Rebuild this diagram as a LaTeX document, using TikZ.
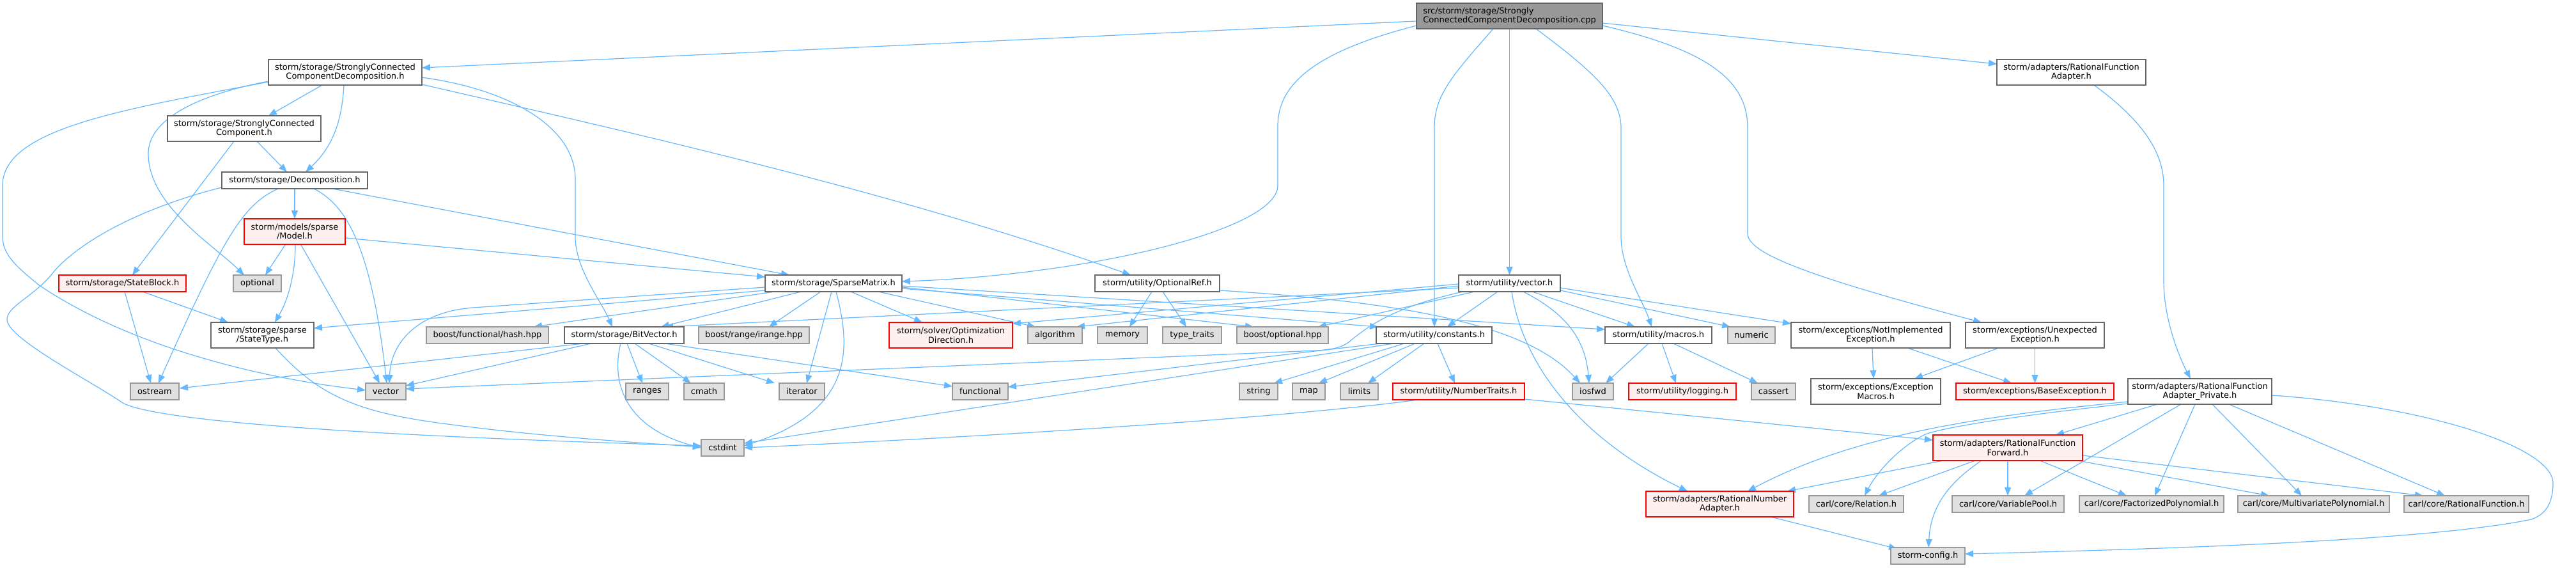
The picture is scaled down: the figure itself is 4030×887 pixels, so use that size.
\documentclass[tikz,border=0pt]{standalone}
\usepackage{fontspec}
\setmainfont{DejaVu Sans}
\usetikzlibrary{arrows.meta}
\definecolor{edgec}{HTML}{63B8FF}
\definecolor{cdark}{HTML}{666666}
\definecolor{cmid}{HTML}{999999}
\definecolor{clight}{HTML}{E0E0E0}
\definecolor{cpink}{HTML}{FFF0F0}
\pgfdeclarelayer{back}
\pgfdeclarelayer{edges}
\pgfsetlayers{back,edges,main}
\newcommand\gfont{\fontsize{13}{14.5}\selectfont}
\newcommand\defnode[7]{%
  \expandafter\gdef\csname cx#1\endcsname{#2}%
  \expandafter\gdef\csname cy#1\endcsname{#3}%
  \node[#6, minimum width=#4, minimum height=#5] (#1) at (#2,#3) {#7};}
\newcommand\pp[3]{([shift={({#2-\csname cx#1\endcsname},{#3-\csname cy#1\endcsname})}]#1.center)}
\tikzset{
  nbase/.style={draw, line width=1.4pt, inner sep=0pt, font=\gfont, align=center},
  wbox/.style={nbase, draw=cdark, fill=white},
  gbox/.style={nbase, draw=cmid, fill=clight},
  rbox/.style={nbase, draw=red, fill=cpink},
  tbox/.style={nbase, draw=cdark, fill=cmid, align=left},
  conn/.style={draw=edgec, line width=1.2pt, -{Triangle[length=13pt,width=10pt]}}
}
\begin{document}
\begin{tikzpicture}[x=1pt,y=-1pt]
\begin{pgfonlayer}{back}
\path[fill=white] (0,0) rectangle (4030,887);
\end{pgfonlayer}
\useasboundingbox (0,0) rectangle (4030,887);

\defnode{cpp}{2361.5}{25}{291}{40}{tbox}{src/storm/storage/Strongly\\ConnectedComponentDecomposition.cpp}
\defnode{sccd}{540}{113}{240}{40}{wbox}{storm/storage/StronglyConnected\\ComponentDecomposition.h}
\defnode{rfa}{3240.5}{113}{233}{40}{wbox}{storm/adapters/RationalFunction\\Adapter.h}
\defnode{sccc}{382}{201}{240}{40}{wbox}{storm/storage/StronglyConnected\\Component.h}
\defnode{decomp}{461}{282}{228}{26}{wbox}{storm/storage/Decomposition.h}
\defnode{model}{461}{362}{158}{40}{rbox}{storm/models/sparse\\/Model.h}
\defnode{stateblock}{191.5}{443}{199}{26}{rbox}{storm/storage/StateBlock.h}
\defnode{optional}{402.5}{443}{75}{26}{gbox}{optional}
\defnode{sparse}{1304}{443}{214}{26}{wbox}{storm/storage/SparseMatrix.h}
\defnode{optref}{1810.5}{443}{195}{26}{wbox}{storm/utility/OptionalRef.h}
\defnode{uvector}{2361.5}{443}{159}{26}{wbox}{storm/utility/vector.h}
\defnode{statetype}{410.5}{524}{161}{40}{wbox}{storm/storage/sparse\\/StateType.h}
\defnode{hash}{762.5}{524}{191}{26}{gbox}{boost/functional/hash.hpp}
\defnode{bitvec}{976.5}{524}{187}{26}{wbox}{storm/storage/BitVector.h}
\defnode{irange}{1179.5}{524}{173}{26}{gbox}{boost/range/irange.hpp}
\defnode{optdir}{1487.5}{524}{193}{40}{rbox}{storm/solver/Optimization\\Direction.h}
\defnode{algorithm}{1650.5}{524}{85}{26}{gbox}{algorithm}
\defnode{memory}{1756}{524}{78}{26}{gbox}{memory}
\defnode{typetraits}{1865}{524}{92}{26}{gbox}{type\_traits}
\defnode{boostopt}{2006.5}{524}{143}{26}{gbox}{boost/optional.hpp}
\defnode{constants}{2243.5}{524}{181}{26}{wbox}{storm/utility/constants.h}
\defnode{macros}{2594.5}{524}{167}{26}{wbox}{storm/utility/macros.h}
\defnode{numeric}{2740}{524}{74}{26}{gbox}{numeric}
\defnode{notimpl}{2926.5}{524}{249}{40}{wbox}{storm/exceptions/NotImplemented\\Exception.h}
\defnode{unexp}{3183.5}{524}{217}{40}{wbox}{storm/exceptions/Unexpected\\Exception.h}
\defnode{ostream}{242}{612}{76}{26}{gbox}{ostream}
\defnode{vector}{603.5}{612}{63}{26}{gbox}{vector}
\defnode{ranges}{1012.5}{612}{67}{26}{gbox}{ranges}
\defnode{cmath}{1101.5}{612}{63}{26}{gbox}{cmath}
\defnode{iterator}{1254.5}{612}{71}{26}{gbox}{iterator}
\defnode{functional}{1533.5}{612}{87}{26}{gbox}{functional}
\defnode{string}{1969}{612}{60}{26}{gbox}{string}
\defnode{map}{2047.5}{612}{51}{26}{gbox}{map}
\defnode{limits}{2126.5}{612}{59}{26}{gbox}{limits}
\defnode{numtraits}{2282}{612}{206}{26}{rbox}{storm/utility/NumberTraits.h}
\defnode{iosfwd}{2492}{612}{64}{26}{gbox}{iosfwd}
\defnode{logging}{2632}{612}{168}{26}{rbox}{storm/utility/logging.h}
\defnode{cassert}{2774.5}{612}{69}{26}{gbox}{cassert}
\defnode{excmacros}{2934.5}{612}{203}{40}{wbox}{storm/exceptions/Exception\\Macros.h}
\defnode{baseexc}{3183.5}{612}{247}{26}{rbox}{storm/exceptions/BaseException.h}
\defnode{rfaprivate}{3441.5}{612}{225}{40}{wbox}{storm/adapters/RationalFunction\\Adapter\_Private.h}
\defnode{cstdint}{1130.5}{700}{67}{26}{gbox}{cstdint}
\defnode{rfforward}{3141}{700}{234}{40}{rbox}{storm/adapters/RationalFunction\\Forward.h}
\defnode{rna}{2690.5}{788}{231}{40}{rbox}{storm/adapters/RationalNumber\\Adapter.h}
\defnode{relation}{2904}{788}{148}{26}{gbox}{carl/core/Relation.h}
\defnode{varpool}{3141.5}{788}{175}{26}{gbox}{carl/core/VariablePool.h}
\defnode{factpoly}{3366}{788}{226}{26}{gbox}{carl/core/FactorizedPolynomial.h}
\defnode{multipoly}{3619.5}{788}{237}{26}{gbox}{carl/core/MultivariatePolynomial.h}
\defnode{ratfunc}{3858.5}{788}{195}{26}{gbox}{carl/core/RationalFunction.h}
\defnode{config}{3016}{869}{116}{26}{gbox}{storm-config.h}

\begin{pgfonlayer}{edges}
% cpp
\draw[conn] \pp{cpp}{2216}{33} -- \pp{sccd}{660}{106};
\draw[conn] \pp{cpp}{2216}{40} .. controls (2060,80) and (1999,130) .. (1999,197) -- (1999,290) .. controls (1999,360) and (1700,430) .. \pp{sparse}{1411}{440};
\draw[conn] \pp{cpp}{2336}{45} .. controls (2270,120) and (2244,150) .. (2244,200) -- \pp{constants}{2244}{511};
\draw[conn] \pp{cpp}{2361.5}{45} -- \pp{uvector}{2361.5}{430};
\draw[conn] \pp{cpp}{2403}{45} .. controls (2490,110) and (2536,150) .. (2536,200) -- (2536,370) .. controls (2536,420) and (2570,470) .. \pp{macros}{2584}{511};
\draw[conn] \pp{cpp}{2507}{40} .. controls (2680,80) and (2734,130) .. (2734,200) -- (2734,365) .. controls (2734,395) and (2820,430) .. \pp{unexp}{3100}{504};
\draw[conn] \pp{cpp}{2507}{36} -- \pp{rfa}{3124}{100};
% sccd
\draw[conn] \pp{sccd}{504}{133} -- \pp{sccc}{420}{181};
\draw[conn] \pp{sccd}{538}{133} .. controls (535,190) and (520,230) .. \pp{decomp}{478}{269};
\draw[conn] \pp{sccd}{420}{127} .. controls (300,150) and (232,190) .. (232,240) .. controls (232,320) and (330,380) .. \pp{optional}{382}{430};
\draw[conn] \pp{sccd}{420}{128} .. controls (200,170) and (4,200) .. (4,290) -- (4,370) .. controls (4,400) and (30,420) .. (60,445) .. controls (200,540) and (400,590) .. \pp{vector}{572}{610};
\draw[conn] \pp{sccd}{660}{121} .. controls (800,140) and (900,200) .. (900,280) -- (900,370) .. controls (900,420) and (940,470) .. \pp{bitvec}{958}{511};
\draw[conn] \pp{sccd}{660}{132} .. controls (1000,210) and (1400,300) .. \pp{optref}{1769}{430};
% sccc
\draw[conn] \pp{sccc}{402}{221} -- \pp{decomp}{449}{269};
\draw[conn] \pp{sccc}{366}{221} -- \pp{stateblock}{207}{430};
% decomp
\draw[conn] \pp{decomp}{461}{295} -- \pp{model}{461}{342};
\draw[conn] \pp{decomp}{347}{293} .. controls (200,330) and (110,390) .. (80,430) .. controls (50,465) and (10,480) .. (11,500) .. controls (12,530) and (150,600) .. (192,630) .. controls (260,665) and (700,685) .. \pp{cstdint}{1097}{697};
\draw[conn] \pp{decomp}{435}{295} .. controls (380,320) and (350,370) .. \pp{ostream}{248}{599};
\draw[conn] \pp{decomp}{491}{295} .. controls (540,320) and (580,380) .. \pp{vector}{605}{599};
\draw[conn] \pp{decomp}{520}{295} -- \pp{sparse}{1235}{430};
% model
\draw[conn] \pp{model}{446}{383} -- \pp{optional}{415}{430};
\draw[conn] \pp{model}{462}{383} .. controls (462,430) and (450,470) .. \pp{statetype}{430}{504};
\draw[conn] \pp{model}{471}{383} -- \pp{vector}{594}{599};
\draw[conn] \pp{model}{540}{372} -- \pp{sparse}{1197}{433};
% stateblock
\draw[conn] \pp{stateblock}{195}{456} -- \pp{ostream}{236}{599};
\draw[conn] \pp{stateblock}{223}{456} -- \pp{statetype}{357}{504};
% statetype
\draw[conn] \pp{statetype}{431}{544} .. controls (500,620) and (560,645) .. (700,663) .. controls (850,683) and (1000,692) .. \pp{cstdint}{1097}{699};
% sparse
\draw[conn] \pp{sparse}{1197}{454} -- \pp{statetype}{491}{513};
\draw[conn] \pp{sparse}{1197}{449} -- (740,481) .. controls (660,487) and (612,530) .. \pp{vector}{609}{599};
\draw[conn] \pp{sparse}{1212}{456} -- \pp{hash}{835}{511};
\draw[conn] \pp{sparse}{1253}{456} -- \pp{bitvec}{1034}{511};
\draw[conn] \pp{sparse}{1284}{456} -- \pp{irange}{1203}{511};
\draw[conn] \pp{sparse}{1301}{456} -- \pp{iterator}{1262}{599};
\draw[conn] \pp{sparse}{1308}{456} .. controls (1330,540) and (1340,640) .. \pp{cstdint}{1164}{697};
\draw[conn] \pp{sparse}{1331}{456} -- \pp{optdir}{1443}{504};
\draw[conn] \pp{sparse}{1374}{456} -- \pp{algorithm}{1620}{511};
\draw[conn] \pp{sparse}{1411}{449} -- \pp{boostopt}{1961}{511};
\draw[conn] \pp{sparse}{1411}{451} -- \pp{constants}{2156}{511};
\draw[conn] \pp{sparse}{1411}{447} -- \pp{macros}{2511}{515};
% optref
\draw[conn] \pp{optref}{1802}{456} -- \pp{memory}{1767}{511};
\draw[conn] \pp{optref}{1819}{456} -- \pp{typetraits}{1856}{511};
\draw[conn] \pp{optref}{1908}{454} .. controls (2250,475) and (2400,520) .. \pp{iosfwd}{2472}{599};
% uvector
\draw[conn] \pp{uvector}{2343}{456} -- \pp{constants}{2264}{511};
\draw[conn] \pp{uvector}{2397}{456} -- \pp{macros}{2558}{511};
\draw[conn] \pp{uvector}{2383}{456} .. controls (2450,490) and (2480,530) .. \pp{iosfwd}{2486}{599};
\draw[conn] \pp{uvector}{2365}{456} .. controls (2380,560) and (2460,680) .. \pp{rna}{2640}{768};
\draw[conn] \pp{uvector}{2441}{454} -- \pp{numeric}{2707}{511};
\draw[conn] \pp{uvector}{2441}{450} -- \pp{notimpl}{2802}{506};
\draw[conn] \pp{uvector}{2282}{447} -- \pp{algorithm}{1684}{511};
\draw[conn] \pp{uvector}{2282}{444} -- \pp{optdir}{1584}{506};
\draw[conn] \pp{uvector}{2282}{450} -- \pp{bitvec}{1040}{511};
\draw[conn] \pp{uvector}{2307}{456} -- \pp{boostopt}{2062}{511};
\draw[conn] \pp{uvector}{2289}{456} .. controls (2180,480) and (2140,510) .. (2110,535) .. controls (2100,542) and (2090,546) .. (2060,548) -- \pp{vector}{635}{608};
% constants
\draw[conn] \pp{constants}{2160}{537} -- \pp{functional}{1577}{605};
\draw[conn] \pp{constants}{2180}{537} -- \pp{cstdint}{1164}{693};
\draw[conn] \pp{constants}{2197}{537} -- \pp{string}{1993}{599};
\draw[conn] \pp{constants}{2214}{537} -- \pp{map}{2063}{599};
\draw[conn] \pp{constants}{2228}{537} -- \pp{limits}{2140}{599};
\draw[conn] \pp{constants}{2249}{537} -- \pp{numtraits}{2276}{599};
% numtraits
\draw[conn] \pp{numtraits}{2218}{625} .. controls (2000,655) and (1500,685) .. \pp{cstdint}{1164}{700};
\draw[conn] \pp{numtraits}{2385}{624} -- \pp{rfforward}{3024}{688};
% macros
\draw[conn] \pp{macros}{2579}{537} -- \pp{iosfwd}{2512}{599};
\draw[conn] \pp{macros}{2600}{537} -- \pp{logging}{2622}{599};
\draw[conn] \pp{macros}{2618}{537} -- \pp{cassert}{2750}{599};
% exceptions
\draw[conn] \pp{notimpl}{2929}{544} -- \pp{excmacros}{2931}{592};
\draw[conn] \pp{notimpl}{2984}{544} -- \pp{baseexc}{3147}{599};
\draw[conn] \pp{unexp}{3127}{544} -- \pp{excmacros}{2995}{592};
\draw[conn] \pp{unexp}{3183.5}{544} -- \pp{baseexc}{3183.5}{599};
% rfa
\draw[conn] \pp{rfa}{3276}{133} .. controls (3340,180) and (3385,230) .. (3385,290) -- (3385,440) .. controls (3385,500) and (3410,560) .. \pp{rfaprivate}{3427}{592};
% rfaprivate
\draw[conn] \pp{rfaprivate}{3329}{628} .. controls (3100,650) and (2900,680) .. \pp{rna}{2734}{768};
\draw[conn] \pp{rfaprivate}{3329}{631} .. controls (3150,650) and (3030,670) .. (3010,680) .. controls (2970,700) and (2935,740) .. \pp{relation}{2917}{775};
\draw[conn] \pp{rfaprivate}{3375}{632} -- \pp{rfforward}{3216}{680};
\draw[conn] \pp{rfaprivate}{3412}{632} -- \pp{varpool}{3167}{775};
\draw[conn] \pp{rfaprivate}{3434}{632} -- \pp{factpoly}{3371}{775};
\draw[conn] \pp{rfaprivate}{3461}{632} -- \pp{multipoly}{3601}{775};
\draw[conn] \pp{rfaprivate}{3487}{632} -- \pp{ratfunc}{3825}{775};
\draw[conn] \pp{rfaprivate}{3554}{618} .. controls (3800,635) and (3994,700) .. (3994,755) .. controls (3994,790) and (3980,805) .. (3960,812) .. controls (3800,845) and (3400,858) .. \pp{config}{3074}{866};
% rfforward
\draw[conn] \pp{rfforward}{3040}{720} -- \pp{rna}{2796}{768};
\draw[conn] \pp{rfforward}{3090}{720} -- \pp{relation}{2939}{775};
\draw[conn] \pp{rfforward}{3100}{720} .. controls (3040,760) and (3020,800) .. \pp{config}{3017}{856};
\draw[conn] \pp{rfforward}{3141}{720} -- \pp{varpool}{3141}{775};
\draw[conn] \pp{rfforward}{3191}{720} -- \pp{factpoly}{3327}{775};
\draw[conn] \pp{rfforward}{3250}{720} -- \pp{multipoly}{3550}{775};
\draw[conn] \pp{rfforward}{3258}{712} -- \pp{ratfunc}{3791}{775};
% rna
\draw[conn] \pp{rna}{2770}{808} -- \pp{config}{2968}{858};
% bitvec
\draw[conn] \pp{bitvec}{913}{537} -- \pp{ostream}{281}{607};
\draw[conn] \pp{bitvec}{925}{537} -- \pp{vector}{635}{603};
\draw[conn] \pp{bitvec}{971}{537} .. controls (955,600) and (980,670) .. \pp{cstdint}{1097}{700};
\draw[conn] \pp{bitvec}{981}{537} -- \pp{ranges}{1005}{599};
\draw[conn] \pp{bitvec}{993}{537} -- \pp{cmath}{1081}{599};
\draw[conn] \pp{bitvec}{1015}{537} -- \pp{iterator}{1212}{599};
\draw[conn] \pp{bitvec}{1040}{537} -- \pp{functional}{1490}{604};
\end{pgfonlayer}
\end{tikzpicture}
\end{document}
